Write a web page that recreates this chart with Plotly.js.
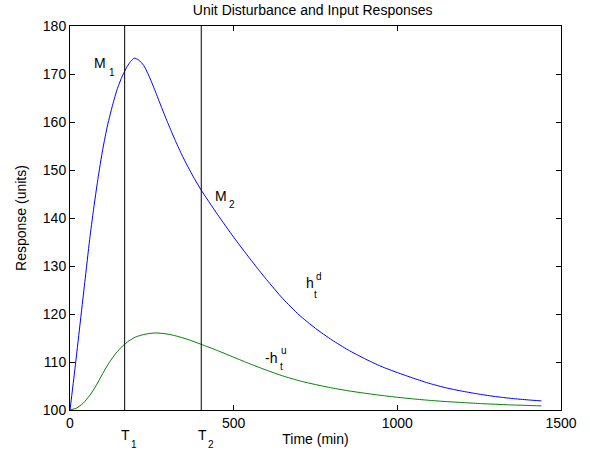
<!DOCTYPE html>
<html>
<head>
<meta charset="utf-8">
<script src="https://cdn.plot.ly/plotly-3.0.1.min.js"></script>
<style>html,body{margin:0;padding:0;background:#fff;}#chart{width:590px;height:455px;}</style>
</head>
<body>
<div id="chart"></div>
<script>
// Disturbance response h_t^d (blue)
var timeD = [0, 15, 30, 45, 60, 72, 85, 100, 115, 130, 145, 160, 175, 185, 196, 210, 225, 240, 260, 280, 300, 320, 340, 360, 380, 400, 450, 500, 550, 600, 650, 700, 750, 800, 850, 900, 950, 1000, 1050, 1100, 1150, 1200, 1250, 1300, 1350, 1400, 1440];
var respD = [100, 108.5, 117.5, 126.5, 135.5, 141.8, 148, 154.3, 159.4, 163.5, 167, 169.6, 171.6, 172.6, 173.3, 172.9, 171.8, 169.8, 166.5, 163, 159.6, 156.4, 153.4, 150.7, 148.2, 145.9, 140.8, 136, 131.5, 127.2, 123.2, 119.8, 117, 114.6, 112.5, 110.7, 109.1, 107.8, 106.6, 105.5, 104.6, 103.9, 103.3, 102.8, 102.4, 102.1, 101.9];
// Input response -h_t^u (green)
var timeU = [0, 20, 40, 60, 80, 100, 120, 140, 160, 180, 200, 230, 260, 290, 320, 360, 400, 450, 500, 550, 600, 650, 700, 750, 800, 850, 900, 950, 1000, 1050, 1100, 1150, 1200, 1250, 1300, 1350, 1400, 1440];
var respU = [100, 100.4, 101.4, 103, 105.1, 107.6, 109.9, 111.8, 113.3, 114.4, 115.2, 115.8, 116.05, 115.9, 115.5, 114.7, 113.7, 112.4, 111, 109.6, 108.3, 107.1, 106.1, 105.3, 104.6, 104, 103.5, 103.05, 102.65, 102.3, 102, 101.75, 101.55, 101.35, 101.2, 101.05, 100.95, 100.85];
// Marker times T1, T2
var markTimes = [167, 401];
var markNames = ['1', '2'];
var xTicks = [0, 500, 1000, 1500];
var yTicks = [100, 110, 120, 130, 140, 150, 160, 170, 180];

var font = 'Liberation Sans, Arial, Helvetica, sans-serif';
var traces = [
  {x: timeD, y: respD, mode: 'lines', line: {color: '#0000ff', width: 1, shape: 'spline', smoothing: 0.6}, hoverinfo: 'skip'},
  {x: timeU, y: respU, mode: 'lines', line: {color: '#008000', width: 1, shape: 'spline', smoothing: 0.6}, hoverinfo: 'skip'}
];
markTimes.forEach(function (t) {
  traces.push({x: [t, t], y: [100, 180], mode: 'lines', line: {color: '#000', width: 1}, hoverinfo: 'skip'});
});

var ann = [];
function txt(x, y, text, size) {
  ann.push({x: x, y: y, xref: 'x', yref: 'y', text: text, showarrow: false,
    font: {family: font, size: size, color: '#000'}, xanchor: 'left', yanchor: 'middle'});
}
// M1, M2
txt(68, 172.2, 'M', 14);
txt(112, 170.4, '1', 10);
txt(437, 144.6, 'M', 14);
txt(480, 142.8, '2', 10);
// h_t^d
txt(716, 126.4, 'h', 14);
txt(746, 127.9, 'd', 10);
txt(739, 124.0, 't', 10);
// -h_t^u
txt(590, 110.8, '-h', 14);
txt(638, 112.4, 'u', 10);
txt(634, 109.0, 't', 10);
// T1, T2 below axis
markTimes.forEach(function (t, i) {
  ann.push({x: t - 16, y: -0.065, xref: 'x', yref: 'paper', text: 'T', showarrow: false,
    font: {family: font, size: 14, color: '#000'}, xanchor: 'left', yanchor: 'middle'});
  ann.push({x: t + 14, y: -0.09, xref: 'x', yref: 'paper', text: markNames[i], showarrow: false,
    font: {family: font, size: 10, color: '#000'}, xanchor: 'left', yanchor: 'middle'});
});

var layout = {
  width: 590, height: 455,
  margin: {l: 70, r: 29, t: 26, b: 45},
  paper_bgcolor: '#fff', plot_bgcolor: '#fff',
  showlegend: false,
  font: {family: font, size: 14, color: '#000'},
  title: {text: 'Unit Disturbance and Input Responses', x: 0.53, xanchor: 'center', y: 0.978, yanchor: 'middle', font: {family: font, size: 14, color: '#000'}},
  xaxis: {
    range: [0, 1500], tickvals: xTicks, ticktext: xTicks.map(String),
    ticks: 'inside', ticklen: 5, tickcolor: '#000', tickwidth: 1,
    showline: true, linecolor: '#000', linewidth: 1, mirror: 'ticks',
    showgrid: false, zeroline: false,
    tickfont: {family: font, size: 14, color: '#000'},
    title: {text: 'Time (min)', font: {family: font, size: 14, color: '#000'}, standoff: 4}
  },
  yaxis: {
    range: [100, 180], tickvals: yTicks, ticktext: yTicks.map(String),
    ticks: 'inside', ticklen: 5, tickcolor: '#000', tickwidth: 1,
    showline: true, linecolor: '#000', linewidth: 1, mirror: 'ticks',
    showgrid: false, zeroline: false,
    tickfont: {family: font, size: 14, color: '#000'},
    title: {text: 'Response (units)', font: {family: font, size: 14, color: '#000'}, standoff: 12}
  },
  annotations: ann
};
Plotly.newPlot('chart', traces, layout, {staticPlot: true, displayModeBar: false});
</script>
</body>
</html>
